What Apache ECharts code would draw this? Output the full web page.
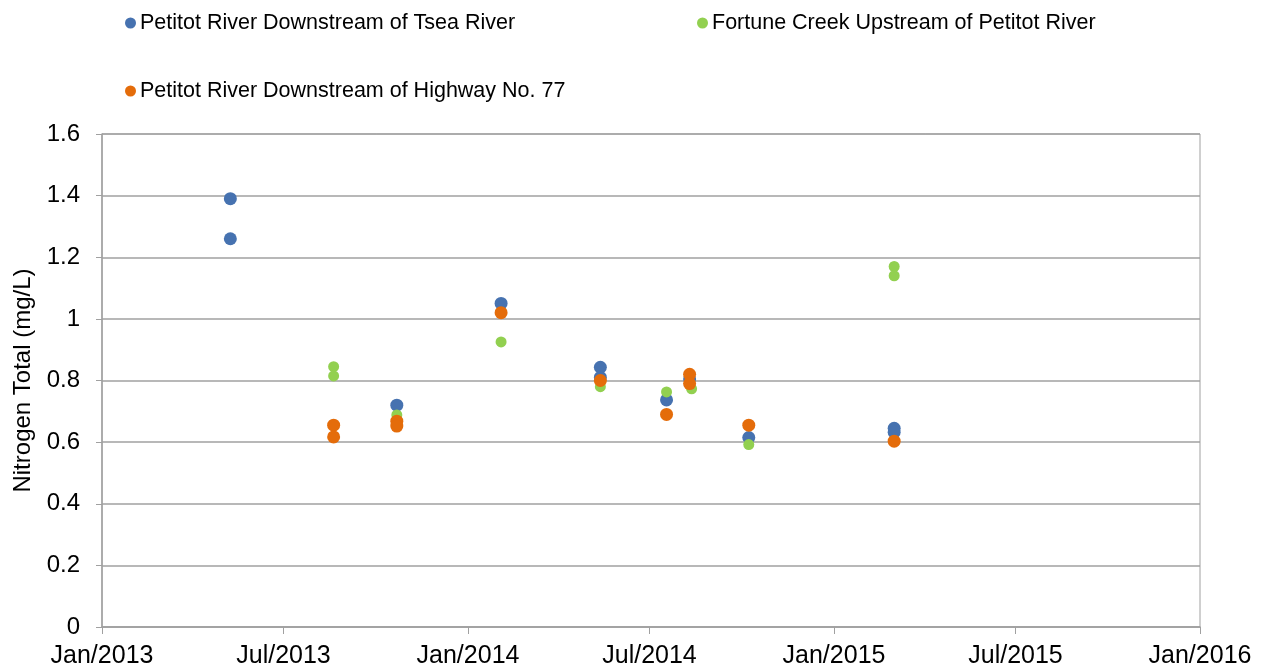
<!DOCTYPE html>
<html>
<head>
<meta charset="utf-8">
<title>Nitrogen Total</title>
<script src="https://cdn.jsdelivr.net/npm/echarts@6/dist/echarts.min.js"></script>
<style>
  html, body { margin: 0; padding: 0; background: #fff; }
  #chart { width: 1261px; height: 669px; }
</style>
</head>
<body>
<div id="chart"></div>
<script>
// Sampling stations
const seriesNames = [
  'Petitot River Downstream of Tsea River',
  'Fortune Creek Upstream of Petitot River',
  'Petitot River Downstream of Highway No. 77'
];

// Total nitrogen (mg/L) by sampling date
const tseaRiver = [
  ['2013-05-09', 1.39], ['2013-05-09', 1.26],
  ['2013-10-22', 0.72],
  ['2014-02-03', 1.05],
  ['2014-05-13', 0.843], ['2014-05-13', 0.81],
  ['2014-07-18', 0.737],
  ['2014-08-10', 0.805],
  ['2014-10-08', 0.615],
  ['2015-03-02', 0.645], ['2015-03-02', 0.632]
];
const fortuneCreek = [
  ['2013-08-20', 0.845], ['2013-08-20', 0.815],
  ['2013-10-22', 0.688],
  ['2014-02-03', 0.925],
  ['2014-05-13', 0.78],
  ['2014-07-18', 0.763],
  ['2014-08-12', 0.773],
  ['2014-10-08', 0.592],
  ['2015-03-02', 1.17], ['2015-03-02', 1.14]
];
const highway77 = [
  ['2013-08-20', 0.655], ['2013-08-20', 0.617],
  ['2013-10-22', 0.668], ['2013-10-22', 0.652],
  ['2014-02-03', 1.02],
  ['2014-05-13', 0.80],
  ['2014-07-18', 0.69],
  ['2014-08-10', 0.82], ['2014-08-10', 0.79],
  ['2014-10-08', 0.655],
  ['2015-03-02', 0.603]
];

const colors = ['#4672b0', '#92d050', '#e46c0a'];
const font = "'Liberation Sans', Arial, sans-serif";
const gridGray = '#a0a0a0';

const chart = echarts.init(document.getElementById('chart'), null, { renderer: 'canvas' });

function legendAt(name, left, top) {
  return {
    show: true,
    data: [name],
    left: left,
    top: top,
    icon: 'circle',
    itemWidth: 11,
    itemHeight: 11,
    itemGap: 0,
    padding: 0,
    textStyle: { fontFamily: font, fontSize: 21.5, color: '#000', padding: [0, 0, 0, -1] }
  };
}

chart.setOption({
  animation: false,
  color: colors,
  legend: [
    legendAt(seriesNames[0], 125, 12),
    legendAt(seriesNames[1], 697, 12),
    legendAt(seriesNames[2], 125, 80)
  ],
  grid: {
    left: 102, right: 61, top: 134, bottom: 42,
    containLabel: false,
    outerBoundsMode: 'none',
    show: true,
    borderColor: gridGray,
    borderWidth: 1
  },
  xAxis: {
    type: 'time',
    min: '2013-01-01',
    max: '2016-01-01',
    splitNumber: 6,
    axisLine: { lineStyle: { color: gridGray, width: 1.5 } },
    axisTick: { show: true, length: 7, lineStyle: { color: gridGray } },
    minorTick: { show: false },
    splitLine: { show: false },
    axisLabel: {
      formatter: '{MMM}/{yyyy}',
      fontFamily: font,
      fontSize: 25,
      color: '#000',
      margin: 17,
      showMinLabel: true,
      showMaxLabel: true,
      hideOverlap: false
    }
  },
  yAxis: {
    type: 'value',
    min: 0,
    max: 1.6,
    interval: 0.2,
    name: 'Nitrogen Total (mg/L)',
    nameLocation: 'middle',
    nameGap: 64,
    nameTextStyle: { fontFamily: font, fontSize: 24, color: '#000' },
    axisLine: { show: true, lineStyle: { color: gridGray, width: 1.5 } },
    axisTick: { show: true, length: 6, lineStyle: { color: gridGray } },
    splitLine: { show: true, lineStyle: { color: gridGray, width: 1.5 } },
    axisLabel: {
      fontFamily: font,
      fontSize: 24,
      color: '#000',
      margin: 22
    }
  },
  series: [
    { name: seriesNames[0], type: 'scatter', data: tseaRiver, symbolSize: 13, itemStyle: { color: colors[0], opacity: 1 } },
    { name: seriesNames[1], type: 'scatter', data: fortuneCreek, symbolSize: 11, itemStyle: { color: colors[1], opacity: 1 } },
    { name: seriesNames[2], type: 'scatter', data: highway77, symbolSize: 13, itemStyle: { color: colors[2], opacity: 1 } }
  ]
});
</script>
</body>
</html>
